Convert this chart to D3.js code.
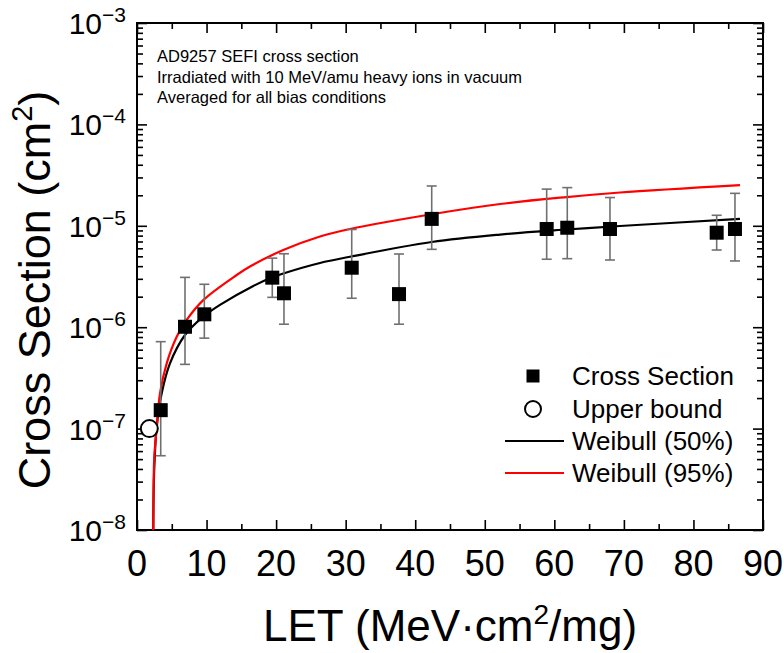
<!DOCTYPE html>
<html><head><meta charset="utf-8">
<script src="https://cdn.jsdelivr.net/npm/d3@7"></script>
<style>body{margin:0;background:#fff}svg{display:block}</style>
</head><body><svg id="c" width="783" height="653"></svg>
<script>
// ---- data ----
const xsLET   = [3.41, 6.90, 9.68, 19.45, 21.13, 30.87, 37.67, 42.37, 58.9, 61.86, 68.0, 83.34, 85.97];
const xsSigma = [1.52e-7, 1.01e-6, 1.34e-6, 3.08e-6, 2.16e-6, 3.86e-6, 2.12e-6, 1.17e-5, 9.3e-6, 9.57e-6, 9.3e-6, 8.55e-6, 9.3e-6];
const xsHigh  = [7.2e-7, 3.1e-6, 2.65e-6, 4.8e-6, 5.3e-6, 9.2e-6, 5.27e-6, 2.47e-5, 2.3e-5, 2.38e-5, 1.9e-5, 1.27e-5, 2.09e-5];
const xsLow   = [5.4e-8, 4.3e-7, 7.8e-7, 1.97e-6, 1.07e-6, 1.93e-6, 1.07e-6, 5.86e-6, 4.68e-6, 4.74e-6, 4.6e-6, 5.77e-6, 4.5e-6];
const ubLET   = [1.77];
const ubSigma = [1.0e-7];
const w50LET   = [2.34, 2.45, 2.83, 3.55, 4.74, 6.90, 9.53, 11.93, 16.72, 19.36, 21.03, 26.31, 30.62, 42.37, 52.19, 61.77, 69.44, 86.69];
const w50Sigma = [1e-8, 3.5e-8, 1.04e-7, 2.23e-7, 4.4e-7, 8.38e-7, 1.27e-6, 1.66e-6, 2.55e-6, 3.09e-6, 3.39e-6, 4.30e-6, 4.95e-6, 6.92e-6, 8.20e-6, 9.19e-6, 9.95e-6, 1.17e-5];
const w95LET   = [2.34, 2.40, 2.49, 2.83, 3.31, 4.27, 5.71, 7.14, 9.53, 14.33, 16.24, 21.03, 26.31, 30.62, 42.37, 52.19, 61.77, 69.44, 86.69];
const w95Sigma = [1e-8, 3.1e-8, 5.3e-8, 1.01e-7, 2.23e-7, 4.4e-7, 8.05e-7, 1.18e-6, 1.85e-6, 3.27e-6, 3.97e-6, 5.77e-6, 7.85e-6, 9.29e-6, 1.30e-5, 1.64e-5, 1.92e-5, 2.13e-5, 2.52e-5];
const xMajor = [0, 10, 20, 30, 40, 50, 60, 70, 80, 90];
const xMinor = [5, 15, 25, 35, 45, 55, 65, 75, 85];
const yExps  = [-8, -7, -6, -5, -4, -3];
const noteLines = ["AD9257 SEFI cross section", "Irradiated with 10 MeV/amu heavy ions in vacuum", "Averaged for all bias conditions"];
const legendLabels = ["Cross Section", "Upper bound", "Weibull (50%)", "Weibull (95%)"];

// ---- drawing ----
const FONT = "'Liberation Sans', Arial, sans-serif";
const svg = d3.select("#c").style("font-family", FONT);
const L = 137, R = 763, T = 23, B = 530;
const x = d3.scaleLinear().domain([0, 90]).range([L, R]);
const y = d3.scaleLog().domain([1e-8, 1e-3]).range([B, T]);

const yMajor = yExps.map(e => Math.pow(10, e));
const yMinor = [];
for (let e = -8; e < -3; e++) for (let k = 2; k <= 9; k++) yMinor.push(k * Math.pow(10, e));

function styleAxis(g) {
  g.select(".domain").remove();
  g.selectAll("line").attr("stroke", "#000").attr("stroke-width", 1.6);
}
// bottom
svg.append("g").attr("transform", `translate(0,${B})`).call(d3.axisBottom(x).tickValues(xMajor).tickSize(-10).tickFormat("")).call(styleAxis);
svg.append("g").attr("transform", `translate(0,${B})`).call(d3.axisBottom(x).tickValues(xMinor).tickSize(-6).tickFormat("")).call(styleAxis);
// top
svg.append("g").attr("transform", `translate(0,${T})`).call(d3.axisTop(x).tickValues(xMajor).tickSize(-10).tickFormat("")).call(styleAxis);
svg.append("g").attr("transform", `translate(0,${T})`).call(d3.axisTop(x).tickValues(xMinor).tickSize(-6).tickFormat("")).call(styleAxis);
// left
const yl = svg.append("g").attr("transform", `translate(${L},0)`).call(d3.axisLeft(y).tickValues(yMajor).tickSize(-10).tickFormat("")).call(styleAxis);
svg.append("g").attr("transform", `translate(${L},0)`).call(d3.axisLeft(y).tickValues(yMinor).tickSize(-6).tickFormat("")).call(styleAxis);
// right
svg.append("g").attr("transform", `translate(${R},0)`).call(d3.axisRight(y).tickValues(yMajor).tickSize(-10).tickFormat("")).call(styleAxis);
svg.append("g").attr("transform", `translate(${R},0)`).call(d3.axisRight(y).tickValues(yMinor).tickSize(-6).tickFormat("")).call(styleAxis);

// frame
svg.append("rect").attr("x", L).attr("y", T).attr("width", R - L).attr("height", B - T)
  .attr("fill", "none").attr("stroke", "#000").attr("stroke-width", 2);

// x tick labels
svg.append("g").selectAll("text").data(xMajor).join("text")
  .attr("x", d => x(d)).attr("y", B + 46).attr("text-anchor", "middle")
  .attr("font-size", 36).text(d => d);

// y tick labels
yl.selectAll(".tick").each(function(d) {
  const t = d3.select(this).append("text").attr("x", -11).attr("y", 10.5)
    .attr("text-anchor", "end").attr("fill", "#000").attr("font-size", 30).attr("font-family", FONT);
  t.append("tspan").text("10");
  t.append("tspan").attr("font-size", 21).attr("dy", -12).text("\u2212" + Math.abs(Math.round(Math.log10(d))));
});

// axis titles
const xt = svg.append("text").attr("x", 450).attr("y", 641).attr("text-anchor", "middle").attr("font-size", 44);
xt.append("tspan").text("LET (MeV\u00B7cm");
xt.append("tspan").attr("font-size", 28).attr("dy", -17).text("2");
xt.append("tspan").attr("dy", 17).text("/mg)");

const yt = svg.append("text").attr("transform", "translate(50,290) rotate(-90)").attr("text-anchor", "middle").attr("font-size", 45);
yt.append("tspan").text("Cross Section (cm");
yt.append("tspan").attr("font-size", 29).attr("dy", -18).text("2");
yt.append("tspan").attr("dy", 18).text(")");

// curves
const line = d3.line().x(d => x(d[0])).y(d => y(d[1])).curve(d3.curveCatmullRom.alpha(0.5));
const w50 = w50LET.map((v, i) => [v, w50Sigma[i]]);
const w95 = w95LET.map((v, i) => [v, w95Sigma[i]]);
svg.append("path").attr("d", line(w50)).attr("fill", "none").attr("stroke", "#000").attr("stroke-width", 2.2);
svg.append("path").attr("d", line(w95)).attr("fill", "none").attr("stroke", "#ff0000").attr("stroke-width", 2.2);

// error bars
const pts = xsLET.map((v, i) => ({x: v, s: xsSigma[i], hi: xsHigh[i], lo: xsLow[i]}));
const eb = svg.append("g").attr("stroke", "#707070").attr("stroke-width", 1.6).attr("fill", "none");
pts.forEach(p => {
  const cx = x(p.x);
  eb.append("line").attr("x1", cx).attr("x2", cx).attr("y1", y(p.hi)).attr("y2", y(p.lo));
  eb.append("line").attr("x1", cx - 5).attr("x2", cx + 5).attr("y1", y(p.hi)).attr("y2", y(p.hi));
  eb.append("line").attr("x1", cx - 5).attr("x2", cx + 5).attr("y1", y(p.lo)).attr("y2", y(p.lo));
});

// markers
const S = 14;
svg.append("g").selectAll("rect").data(pts).join("rect")
  .attr("x", d => x(d.x) - S / 2).attr("y", d => y(d.s) - S / 2).attr("width", S).attr("height", S).attr("fill", "#000");
svg.append("g").selectAll("circle").data(ubLET.map((v, i) => [v, ubSigma[i]])).join("circle")
  .attr("cx", d => x(d[0])).attr("cy", d => y(d[1])).attr("r", 8.5)
  .attr("fill", "#fff").attr("stroke", "#000").attr("stroke-width", 2);

// annotation
svg.append("g").selectAll("text").data(noteLines).join("text")
  .attr("x", 157).attr("y", (d, i) => 62 + i * 20.7).attr("font-size", 16.5).text(d => d);

// legend
const lg = svg.append("g");
const rowY = [376, 409, 441, 473];
lg.append("rect").attr("x", 533 - 6.5).attr("y", rowY[0] - 6.5).attr("width", 13).attr("height", 13).attr("fill", "#000");
lg.append("circle").attr("cx", 533).attr("cy", rowY[1]).attr("r", 8).attr("fill", "#fff").attr("stroke", "#000").attr("stroke-width", 2);
lg.append("line").attr("x1", 505).attr("x2", 564).attr("y1", rowY[2]).attr("y2", rowY[2]).attr("stroke", "#000").attr("stroke-width", 2.2);
lg.append("line").attr("x1", 505).attr("x2", 564).attr("y1", rowY[3]).attr("y2", rowY[3]).attr("stroke", "#ff0000").attr("stroke-width", 2.2);
lg.selectAll("text").data(legendLabels).join("text")
  .attr("x", 572).attr("y", (d, i) => rowY[i] + 9).attr("font-size", 26).text(d => d);
</script>
</body></html>
